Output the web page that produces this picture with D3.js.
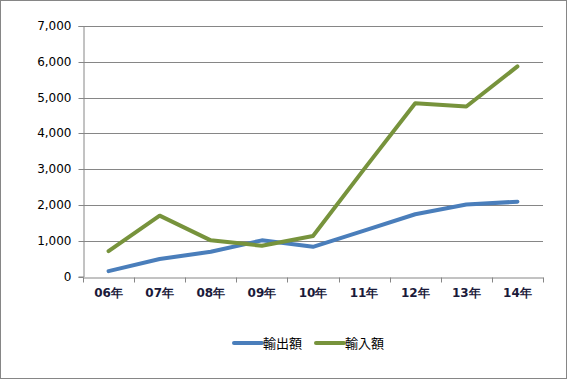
<!DOCTYPE html>
<html><head><meta charset="utf-8">
<script src="https://cdn.jsdelivr.net/npm/d3@7"></script>
<style>body{margin:0;background:#fff}svg{display:block}</style>
</head><body>
<script>
const categories = ["06年","07年","08年","09年","10年","11年","12年","13年","14年"];
const exportValues = [150, 490, 690, 1010, 830, 1280, 1740, 2010, 2090];
const importValues = [710, 1700, 1010, 860, 1130, 3000, 4840, 4750, 5870];
const seriesNames = ["輸出額","輸入額"];
const seriesColors = ["#4a7ebb","#77933c"];
const yTicks = [0,1000,2000,3000,4000,5000,6000,7000];

(function(){
const W = 568, H = 379;
const svg = d3.select("body").append("svg").attr("width", W).attr("height", H);
svg.append("rect").attr("x",0.5).attr("y",0.5).attr("width",W-2).attr("height",H-1)
  .attr("fill","#fff").attr("stroke","#868686");

const pLeft = 83, pRight = 543, pTop = 26, pBottom = 276.5;
const x = d3.scaleBand().domain(categories).range([pLeft, pRight]).padding(0);
const y = d3.scaleLinear().domain([0, 7000]).range([pBottom, pTop]);

// gridlines
svg.append("g").selectAll("line").data(yTicks.filter(d=>d>0)).join("line")
  .attr("x1", pLeft).attr("x2", pRight)
  .attr("y1", d=>Math.round(y(d))+0.5).attr("y2", d=>Math.round(y(d))+0.5)
  .attr("stroke","#868686").attr("stroke-width",1);

// y axis
const yAxis = d3.axisLeft(y).tickValues(yTicks).tickSize(5).tickPadding(7)
  .tickFormat(d3.format(","));
const gy = svg.append("g").attr("transform",`translate(${pLeft+0.5},0)`).call(yAxis);
gy.selectAll(".tick").attr("transform", d=>`translate(0,${Math.round(y(d))+0.5})`);
gy.select(".domain").attr("stroke","#868686");
gy.selectAll(".tick line").attr("stroke","#868686");
gy.selectAll(".tick text").attr("fill","#000").style("font-family","DejaVu Sans").style("font-size","12px");

// x axis
const gx = svg.append("g").attr("transform",`translate(0,${Math.round(pBottom)+0.5})`)
  .call(d3.axisBottom(x).tickSize(0).tickPadding(11));
gx.select(".domain").attr("stroke","#868686");
gx.selectAll(".tick text").attr("fill","#1a1a3a").style("font-family","DejaVu Sans")
  .style("font-size","12px").style("font-weight","bold");
const bounds = categories.map(c=>x(c)).concat([pRight]);
gx.append("g").selectAll("line").data(bounds).join("line")
  .attr("x1", d=>Math.round(d)+0.5).attr("x2", d=>Math.round(d)+0.5)
  .attr("y1", 0).attr("y2", 5).attr("stroke","#868686");

const line = d3.line().x((d,i)=>x(categories[i])+x.bandwidth()/2).y(d=>y(d));
[exportValues, importValues].forEach((vals,k)=>{
  svg.append("path").datum(vals).attr("d", line).attr("fill","none")
    .attr("stroke", seriesColors[k]).attr("stroke-width",4)
    .attr("stroke-linejoin","round").attr("stroke-linecap","round");
});

// legend
const legendX = [234, 316];
seriesNames.forEach((n,k)=>{
  const g = svg.append("g").attr("transform",`translate(${legendX[k]},343)`);
  g.append("line").attr("x1",0).attr("x2",28).attr("y1",0).attr("y2",0)
    .attr("stroke",seriesColors[k]).attr("stroke-width",4).attr("stroke-linecap","round");
  g.append("text").attr("x",29).attr("y",5).text(n)
    .style("font-family","Noto Sans CJK JP").style("font-size","13px").attr("fill","#000");
});
})();
</script>
</body></html>
